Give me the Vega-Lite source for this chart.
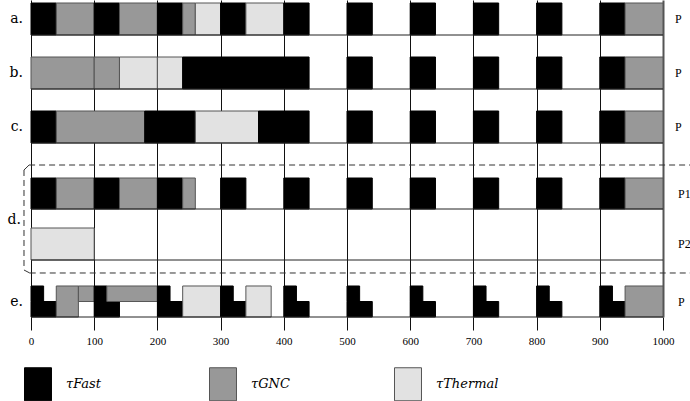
{
  "$schema": "https://vega.github.io/schema/vega-lite/v6.json",
  "width": 632,
  "height": 317,
  "autosize": {"type": "none"},
  "padding": {"left": 31, "top": 0, "right": 27, "bottom": 84},
  "background": "white",
  "config": {"view": {"stroke": null}},
  "data": {"values": [
    {"row":"a","task":"Fast","start":0,"end":40,"lo":0,"hi":1},
    {"row":"a","task":"GNC","start":40,"end":100,"lo":0,"hi":1},
    {"row":"a","task":"Fast","start":100,"end":140,"lo":0,"hi":1},
    {"row":"a","task":"GNC","start":140,"end":200,"lo":0,"hi":1},
    {"row":"a","task":"Fast","start":200,"end":240,"lo":0,"hi":1},
    {"row":"a","task":"GNC","start":240,"end":260,"lo":0,"hi":1},
    {"row":"a","task":"Thermal","start":260,"end":300,"lo":0,"hi":1},
    {"row":"a","task":"Fast","start":300,"end":340,"lo":0,"hi":1},
    {"row":"a","task":"Thermal","start":340,"end":400,"lo":0,"hi":1},
    {"row":"a","task":"Fast","start":400,"end":440,"lo":0,"hi":1},
    {"row":"a","task":"Fast","start":500,"end":540,"lo":0,"hi":1},
    {"row":"a","task":"Fast","start":600,"end":640,"lo":0,"hi":1},
    {"row":"a","task":"Fast","start":700,"end":740,"lo":0,"hi":1},
    {"row":"a","task":"Fast","start":800,"end":840,"lo":0,"hi":1},
    {"row":"a","task":"Fast","start":900,"end":940,"lo":0,"hi":1},
    {"row":"a","task":"GNC","start":940,"end":1000,"lo":0,"hi":1},

    {"row":"b","task":"GNC","start":0,"end":100,"lo":0,"hi":1},
    {"row":"b","task":"GNC","start":100,"end":140,"lo":0,"hi":1},
    {"row":"b","task":"Thermal","start":140,"end":200,"lo":0,"hi":1},
    {"row":"b","task":"Thermal","start":200,"end":240,"lo":0,"hi":1},
    {"row":"b","task":"Fast","start":240,"end":440,"lo":0,"hi":1},
    {"row":"b","task":"Fast","start":500,"end":540,"lo":0,"hi":1},
    {"row":"b","task":"Fast","start":600,"end":640,"lo":0,"hi":1},
    {"row":"b","task":"Fast","start":700,"end":740,"lo":0,"hi":1},
    {"row":"b","task":"Fast","start":800,"end":840,"lo":0,"hi":1},
    {"row":"b","task":"Fast","start":900,"end":940,"lo":0,"hi":1},
    {"row":"b","task":"GNC","start":940,"end":1000,"lo":0,"hi":1},

    {"row":"c","task":"Fast","start":0,"end":40,"lo":0,"hi":1},
    {"row":"c","task":"GNC","start":40,"end":180,"lo":0,"hi":1},
    {"row":"c","task":"Fast","start":180,"end":260,"lo":0,"hi":1},
    {"row":"c","task":"Thermal","start":260,"end":360,"lo":0,"hi":1},
    {"row":"c","task":"Fast","start":360,"end":440,"lo":0,"hi":1},
    {"row":"c","task":"Fast","start":500,"end":540,"lo":0,"hi":1},
    {"row":"c","task":"Fast","start":600,"end":640,"lo":0,"hi":1},
    {"row":"c","task":"Fast","start":700,"end":740,"lo":0,"hi":1},
    {"row":"c","task":"Fast","start":800,"end":840,"lo":0,"hi":1},
    {"row":"c","task":"Fast","start":900,"end":940,"lo":0,"hi":1},
    {"row":"c","task":"GNC","start":940,"end":1000,"lo":0,"hi":1},

    {"row":"P1","task":"Fast","start":0,"end":40,"lo":0,"hi":1},
    {"row":"P1","task":"GNC","start":40,"end":100,"lo":0,"hi":1},
    {"row":"P1","task":"Fast","start":100,"end":140,"lo":0,"hi":1},
    {"row":"P1","task":"GNC","start":140,"end":200,"lo":0,"hi":1},
    {"row":"P1","task":"Fast","start":200,"end":240,"lo":0,"hi":1},
    {"row":"P1","task":"GNC","start":240,"end":260,"lo":0,"hi":1},
    {"row":"P1","task":"Fast","start":300,"end":340,"lo":0,"hi":1},
    {"row":"P1","task":"Fast","start":400,"end":440,"lo":0,"hi":1},
    {"row":"P1","task":"Fast","start":500,"end":540,"lo":0,"hi":1},
    {"row":"P1","task":"Fast","start":600,"end":640,"lo":0,"hi":1},
    {"row":"P1","task":"Fast","start":700,"end":740,"lo":0,"hi":1},
    {"row":"P1","task":"Fast","start":800,"end":840,"lo":0,"hi":1},
    {"row":"P1","task":"Fast","start":900,"end":940,"lo":0,"hi":1},
    {"row":"P1","task":"GNC","start":940,"end":1000,"lo":0,"hi":1},

    {"row":"P2","task":"Thermal","start":0,"end":100,"lo":0,"hi":1},

    {"row":"e","task":"Fast","start":0,"end":40,"lo":0,"hi":0.5},
    {"row":"e","task":"Fast","start":0,"end":20,"lo":0.5,"hi":1},
    {"row":"e","task":"GNC","start":40,"end":75,"lo":0,"hi":1},
    {"row":"e","task":"GNC","start":75,"end":100,"lo":0.5,"hi":1},
    {"row":"e","task":"Fast","start":100,"end":140,"lo":0,"hi":0.5},
    {"row":"e","task":"Fast","start":100,"end":120,"lo":0.5,"hi":1},
    {"row":"e","task":"GNC","start":120,"end":200,"lo":0.5,"hi":1},
    {"row":"e","task":"Fast","start":200,"end":240,"lo":0,"hi":0.5},
    {"row":"e","task":"Fast","start":200,"end":220,"lo":0.5,"hi":1},
    {"row":"e","task":"Thermal","start":240,"end":300,"lo":0,"hi":1},
    {"row":"e","task":"Fast","start":300,"end":340,"lo":0,"hi":0.5},
    {"row":"e","task":"Fast","start":300,"end":320,"lo":0.5,"hi":1},
    {"row":"e","task":"Thermal","start":340,"end":380,"lo":0,"hi":1},
    {"row":"e","task":"Fast","start":400,"end":440,"lo":0,"hi":0.5},
    {"row":"e","task":"Fast","start":400,"end":420,"lo":0.5,"hi":1},
    {"row":"e","task":"Fast","start":500,"end":540,"lo":0,"hi":0.5},
    {"row":"e","task":"Fast","start":500,"end":520,"lo":0.5,"hi":1},
    {"row":"e","task":"Fast","start":600,"end":640,"lo":0,"hi":0.5},
    {"row":"e","task":"Fast","start":600,"end":620,"lo":0.5,"hi":1},
    {"row":"e","task":"Fast","start":700,"end":740,"lo":0,"hi":0.5},
    {"row":"e","task":"Fast","start":700,"end":720,"lo":0.5,"hi":1},
    {"row":"e","task":"Fast","start":800,"end":840,"lo":0,"hi":0.5},
    {"row":"e","task":"Fast","start":800,"end":820,"lo":0.5,"hi":1},
    {"row":"e","task":"Fast","start":900,"end":940,"lo":0,"hi":0.5},
    {"row":"e","task":"Fast","start":900,"end":920,"lo":0.5,"hi":1},
    {"row":"e","task":"GNC","start":940,"end":1000,"lo":0,"hi":1}
  ]},
  "resolve": {"scale": {"y": "independent"}, "axis": {"y": "independent"}},
  "layer": [
    {
      "data": {"values": [{}]},
      "mark": {"type": "rule", "opacity": 0},
      "encoding": {
        "x": {"datum": 0, "type": "quantitative", "scale": {"domain": [0, 1000], "nice": false, "zero": false},
              "axis": {"values": [0, 100, 200, 300, 400, 500, 600, 700, 800, 900, 1000], "format": "d", "grid": true,
                       "gridColor": {"condition": {"test": "datum.value === 1000", "value": "#555555"}, "value": "#111111"},
                       "gridWidth": {"condition": {"test": "datum.value === 1000", "value": 2}, "value": 1},
                       "tickSize": 13, "tickColor": "#111111", "tickWidth": 1, "domain": false,
                       "labelFont": "Liberation Serif", "labelFontSize": 11, "labelColor": "#000000", "labelPadding": 5,
                       "labelFlush": false, "title": null}},
        "y": {"datum": 0, "type": "quantitative", "scale": {"domain": [0, 1]}, "axis": null}
      }
    },
    {
      "layer": [
        {"transform": [{"filter": "datum.row === 'a'"}],
         "mark": {"type": "bar", "strokeWidth": 1},
         "encoding": {
           "x": {"field": "start", "type": "quantitative", "scale": {"domain": [0, 1000], "nice": false, "zero": false}, "title": null},
           "x2": {"field": "end"},
           "y": {"field": "lo", "type": "quantitative", "scale": {"domain": [-8.8125, 1.09375], "nice": false, "zero": false}, "axis": null},
           "y2": {"field": "hi"},
           "color": {"field": "task", "type": "nominal", "scale": {"domain": ["Fast", "GNC", "Thermal"], "range": ["#000000", "#989898", "#e2e2e2"]}},
           "stroke": {"field": "task", "type": "nominal", "scale": {"domain": ["Fast", "GNC", "Thermal"], "range": ["#000000", "#555555", "#555555"]}, "legend": null}
         }},
        {"data": {"values": [{}]}, "mark": {"type": "rule", "color": "#222222"},
         "encoding": {"x": {"datum": 0}, "x2": {"datum": 1000}, "y": {"datum": 0, "axis": null}}},
        {"data": {"values": [{}]}, "mark": {"type": "text", "align": "right", "baseline": "middle", "dx": -8, "font": "DejaVu Serif", "fontSize": 14, "color": "#000000"},
         "encoding": {"x": {"datum": 0}, "y": {"datum": 0.5, "axis": null}, "text": {"value": "a."}}},
        {"data": {"values": [{}]}, "mark": {"type": "text", "align": "left", "baseline": "middle", "dx": 12, "font": "Liberation Serif", "fontSize": 12, "color": "#000000"},
         "encoding": {"x": {"datum": 1000}, "y": {"datum": 0.5, "axis": null}, "text": {"value": "P"}}}
      ]
    },
    {
      "layer": [
        {"transform": [{"filter": "datum.row === 'b'"}],
         "mark": {"type": "bar", "strokeWidth": 1},
         "encoding": {
           "x": {"field": "start", "type": "quantitative", "scale": {"domain": [0, 1000], "nice": false, "zero": false}, "title": null},
           "x2": {"field": "end"},
           "y": {"field": "lo", "type": "quantitative", "scale": {"domain": [-7.125, 2.78125], "nice": false, "zero": false}, "axis": null},
           "y2": {"field": "hi"},
           "color": {"field": "task", "type": "nominal", "scale": {"domain": ["Fast", "GNC", "Thermal"], "range": ["#000000", "#989898", "#e2e2e2"]}},
           "stroke": {"field": "task", "type": "nominal", "scale": {"domain": ["Fast", "GNC", "Thermal"], "range": ["#000000", "#555555", "#555555"]}, "legend": null}
         }},
        {"data": {"values": [{}]}, "mark": {"type": "rule", "color": "#222222"},
         "encoding": {"x": {"datum": 0}, "x2": {"datum": 1000}, "y": {"datum": 0, "axis": null}}},
        {"data": {"values": [{}]}, "mark": {"type": "text", "align": "right", "baseline": "middle", "dx": -8, "font": "DejaVu Serif", "fontSize": 14, "color": "#000000"},
         "encoding": {"x": {"datum": 0}, "y": {"datum": 0.5, "axis": null}, "text": {"value": "b."}}},
        {"data": {"values": [{}]}, "mark": {"type": "text", "align": "left", "baseline": "middle", "dx": 12, "font": "Liberation Serif", "fontSize": 12, "color": "#000000"},
         "encoding": {"x": {"datum": 1000}, "y": {"datum": 0.5, "axis": null}, "text": {"value": "P"}}}
      ]
    },
    {
      "layer": [
        {"transform": [{"filter": "datum.row === 'c'"}],
         "mark": {"type": "bar", "strokeWidth": 1},
         "encoding": {
           "x": {"field": "start", "type": "quantitative", "scale": {"domain": [0, 1000], "nice": false, "zero": false}, "title": null},
           "x2": {"field": "end"},
           "y": {"field": "lo", "type": "quantitative", "scale": {"domain": [-5.4375, 4.46875], "nice": false, "zero": false}, "axis": null},
           "y2": {"field": "hi"},
           "color": {"field": "task", "type": "nominal", "scale": {"domain": ["Fast", "GNC", "Thermal"], "range": ["#000000", "#989898", "#e2e2e2"]}},
           "stroke": {"field": "task", "type": "nominal", "scale": {"domain": ["Fast", "GNC", "Thermal"], "range": ["#000000", "#555555", "#555555"]}, "legend": null}
         }},
        {"data": {"values": [{}]}, "mark": {"type": "rule", "color": "#222222"},
         "encoding": {"x": {"datum": 0}, "x2": {"datum": 1000}, "y": {"datum": 0, "axis": null}}},
        {"data": {"values": [{}]}, "mark": {"type": "text", "align": "right", "baseline": "middle", "dx": -8, "font": "DejaVu Serif", "fontSize": 14, "color": "#000000"},
         "encoding": {"x": {"datum": 0}, "y": {"datum": 0.5, "axis": null}, "text": {"value": "c."}}},
        {"data": {"values": [{}]}, "mark": {"type": "text", "align": "left", "baseline": "middle", "dx": 12, "font": "Liberation Serif", "fontSize": 12, "color": "#000000"},
         "encoding": {"x": {"datum": 1000}, "y": {"datum": 0.5, "axis": null}, "text": {"value": "P"}}}
      ]
    },
    {
      "layer": [
        {"transform": [{"filter": "datum.row === 'P1'"}],
         "mark": {"type": "bar", "strokeWidth": 1},
         "encoding": {
           "x": {"field": "start", "type": "quantitative", "scale": {"domain": [0, 1000], "nice": false, "zero": false}, "title": null},
           "x2": {"field": "end"},
           "y": {"field": "lo", "type": "quantitative", "scale": {"domain": [-3.48387, 6.74194], "nice": false, "zero": false}, "axis": null},
           "y2": {"field": "hi"},
           "color": {"field": "task", "type": "nominal", "scale": {"domain": ["Fast", "GNC", "Thermal"], "range": ["#000000", "#989898", "#e2e2e2"]}},
           "stroke": {"field": "task", "type": "nominal", "scale": {"domain": ["Fast", "GNC", "Thermal"], "range": ["#000000", "#555555", "#555555"]}, "legend": null}
         }},
        {"data": {"values": [{}]}, "mark": {"type": "rule", "color": "#222222"},
         "encoding": {"x": {"datum": 0}, "x2": {"datum": 1000}, "y": {"datum": 0, "axis": null}}},
        {"data": {"values": [{}]}, "mark": {"type": "text", "align": "left", "baseline": "middle", "dx": 15, "font": "Liberation Serif", "fontSize": 12, "color": "#000000"},
         "encoding": {"x": {"datum": 1000}, "y": {"datum": 0.5, "axis": null}, "text": {"value": "P1"}}}
      ]
    },
    {
      "layer": [
        {"transform": [{"filter": "datum.row === 'P2'"}],
         "mark": {"type": "bar", "strokeWidth": 1},
         "encoding": {
           "x": {"field": "start", "type": "quantitative", "scale": {"domain": [0, 1000], "nice": false, "zero": false}, "title": null},
           "x2": {"field": "end"},
           "y": {"field": "lo", "type": "quantitative", "scale": {"domain": [-1.78125, 8.125], "nice": false, "zero": false}, "axis": null},
           "y2": {"field": "hi"},
           "color": {"field": "task", "type": "nominal", "scale": {"domain": ["Fast", "GNC", "Thermal"], "range": ["#000000", "#989898", "#e2e2e2"]}},
           "stroke": {"field": "task", "type": "nominal", "scale": {"domain": ["Fast", "GNC", "Thermal"], "range": ["#000000", "#555555", "#555555"]}, "legend": null}
         }},
        {"data": {"values": [{}]}, "mark": {"type": "rule", "color": "#222222"},
         "encoding": {"x": {"datum": 0}, "x2": {"datum": 1000}, "y": {"datum": 0, "axis": null}}},
        {"data": {"values": [{}]}, "mark": {"type": "text", "align": "right", "baseline": "middle", "dx": -10, "font": "DejaVu Serif", "fontSize": 14, "color": "#000000"},
         "encoding": {"x": {"datum": 0}, "y": {"datum": 1.25, "axis": null}, "text": {"value": "d."}}},
        {"data": {"values": [{}]}, "mark": {"type": "text", "align": "left", "baseline": "middle", "dx": 15, "font": "Liberation Serif", "fontSize": 12, "color": "#000000"},
         "encoding": {"x": {"datum": 1000}, "y": {"datum": 0.5, "axis": null}, "text": {"value": "P2"}}}
      ]
    },
    {
      "layer": [
        {"transform": [{"filter": "datum.row === 'e'"}],
         "mark": {"type": "bar", "strokeWidth": 1},
         "encoding": {
           "x": {"field": "start", "type": "quantitative", "scale": {"domain": [0, 1000], "nice": false, "zero": false}, "title": null},
           "x2": {"field": "end"},
           "y": {"field": "lo", "type": "quantitative", "scale": {"domain": [0, 10.2258], "nice": false, "zero": false}, "axis": null},
           "y2": {"field": "hi"},
           "color": {"field": "task", "type": "nominal", "scale": {"domain": ["Fast", "GNC", "Thermal"], "range": ["#000000", "#989898", "#e2e2e2"]},
                     "legend": {"orient": "none", "legendX": -10, "legendY": 367, "direction": "horizontal", "columns": 3, "gridAlign": "all",
                                "columnPadding": 77, "padding": 0, "title": null,
                                "symbolType": "M-0.818,-1H0.818V1H-0.818Z", "symbolSize": 1089, "symbolStrokeColor": "#000000", "symbolStrokeWidth": 1, "symbolOpacity": 1,
                                "labelFont": "DejaVu Serif", "labelFontStyle": "italic", "labelFontSize": 13, "labelOffset": 11, "labelColor": "#000000",
                                "labelExpr": "'τ' + datum.label"}},
           "stroke": {"field": "task", "type": "nominal", "scale": {"domain": ["Fast", "GNC", "Thermal"], "range": ["#000000", "#555555", "#555555"]}, "legend": null}
         }},
        {"data": {"values": [{}]}, "mark": {"type": "rule", "color": "#222222"},
         "encoding": {"x": {"datum": 0}, "x2": {"datum": 1000}, "y": {"datum": 0, "axis": null}}},
        {"data": {"values": [{}]}, "mark": {"type": "text", "align": "right", "baseline": "middle", "dx": -8, "font": "DejaVu Serif", "fontSize": 14, "color": "#000000"},
         "encoding": {"x": {"datum": 0}, "y": {"datum": 0.5, "axis": null}, "text": {"value": "e."}}},
        {"data": {"values": [{}]}, "mark": {"type": "text", "align": "left", "baseline": "middle", "dx": 15, "font": "Liberation Serif", "fontSize": 12, "color": "#000000"},
         "encoding": {"x": {"datum": 1000}, "y": {"datum": 0.5, "axis": null}, "text": {"value": "P"}}},
        {"data": {"values": [{}]}, "mark": {"type": "rule", "color": "#333333", "strokeDash": [6, 4]},
         "encoding": {"x": {"datum": -3}, "x2": {"datum": 1043}, "y": {"datum": 4.9032, "axis": null}}},
        {"data": {"values": [{}]}, "mark": {"type": "rule", "color": "#333333", "strokeDash": [6, 4]},
         "encoding": {"x": {"datum": -2}, "x2": {"datum": 1043}, "y": {"datum": 1.4194, "axis": null}}},
        {"data": {"values": [{}]}, "mark": {"type": "rule", "color": "#333333", "strokeDash": [6, 4]},
         "encoding": {"x": {"datum": -11.1}, "y": {"datum": 4.742, "axis": null}, "y2": {"datum": 1.516}}},
        {"data": {"values": [{}]}, "mark": {"type": "rule", "color": "#333333"},
         "encoding": {"x": {"datum": -3}, "x2": {"datum": -11.1}, "y": {"datum": 4.9032, "axis": null}, "y2": {"datum": 4.742}}},
        {"data": {"values": [{}]}, "mark": {"type": "rule", "color": "#333333"},
         "encoding": {"x": {"datum": -11.1}, "x2": {"datum": -2}, "y": {"datum": 1.516, "axis": null}, "y2": {"datum": 1.4194}}}
      ]
    }
  ]
}
